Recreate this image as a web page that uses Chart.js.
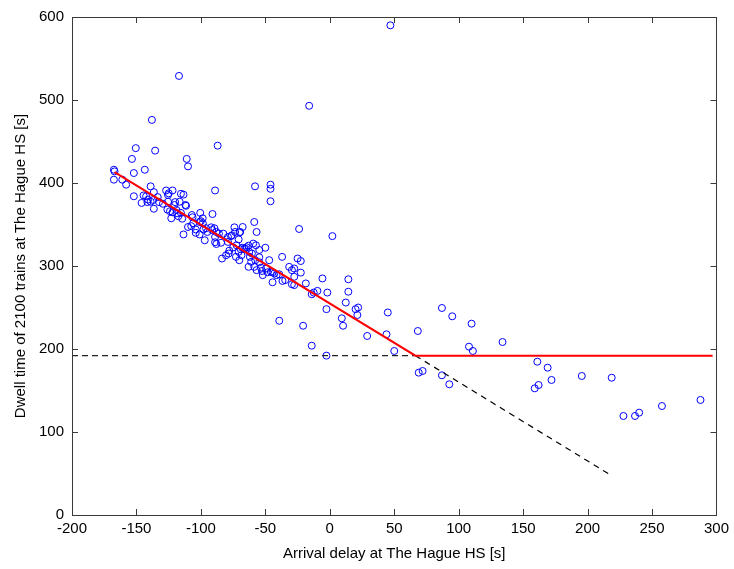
<!DOCTYPE html>
<html>
<head>
<meta charset="utf-8">
<script src="https://cdn.jsdelivr.net/npm/chart.js@4"></script>
<style>
  html, body { margin: 0; padding: 0; background: #fff; }
  #wrap { width: 734px; height: 569px; }
</style>
</head>
<body>
<div id="wrap"><canvas id="dwellChart"></canvas></div>
<script>
// arrival delay [s] vs dwell time [s]
const arrivalDelay = [
  47, -117, -16, -138, -135.5, -150.5, -87, -111, -110, -153.5, -167.5, -167, -167.5, -161, -158, -152, -143.5, -152, -89,
  -139, -136.5, -144.5, -142.5, -141, -137, -139, -146, -141.5, -136.5, -133.5, -132.5, -129.5, -127, -122, -125.5, -125.5,
  -120, -115.5, -113.5, -116.5, -120.5, -126, -124, -119, -122, -118.5, -115.5, -117.5, -123, -114.5, -112, -113.5, -110,
  -111.5, -107, -106.5, -100.5, -91, -106, -107.5, -104, -104, -101, -101, -100, -98.5, -98, -96, -95, -92, -91.3, -89.5,
  -88, -86, -89, -88, -89, -84.4, -83.6, -80.5, -78.5, -82.6, -79, -76, -74, -73.5, -70.7, -67.6, -69.5, -72.3, -75, -78,
  -70.7, -69, -66.3, -64.5, -58.6, -56.8, -59.4, -57.3, -62.5, -60.4, -62, -61, -63, -58.6, -56.8, -57.8,
  -70, -76.6, -97, -79, -54.7, -72.8, -70.2, -68, -68.5, -125, -98.6,
  -23.8, -65, -63, -54.7, -50, -54.7, -53.4, -52.6, -52, -49.5, -48.3, -47, -45.7, -44.4, -43, -41.3, -39.2, -37, -36.7,
  -44.4, -31.5, -29.4, -27.6, -25, -22.5, -22.5, -27.6, -29.4, -27.6, -18.6, -14, -12.5, -9.6, -34.6,
  -5.7, 14.4, -1.9, 14.4, 12.4, -2.6, 20, 22, 21.4, 9.3, 10.3, -20.7, 29, 45, 44, 50, -14, -2.6, 68.3, -39.2, 2,
  -58, -46, -46, -46,
  87, 95, 110, 134, 108, 111, 161, 169, 172, 195.5, 218.7, 159, 162, 69, 72, 87, 92.7, 227.8, 236.8, 240, 257.7, 287.6
];
const dwellTime = [
  590, 529, 493, 476, 439, 442, 445, 429, 420, 429, 416, 414, 404, 404, 398, 412, 416, 384, 391,
  396, 389, 385, 384, 380, 379.5, 377.5, 376, 377, 369, 383, 377, 375, 391, 391, 385.5, 377.5,
  377, 387, 386, 377.5, 373.5, 368, 366, 367.5, 364.7, 363.5, 364, 360, 357.5, 357, 373.5, 338, 347,
  372.5, 361.4, 358.7, 364, 362.6, 351.5, 348, 344, 340, 338, 353, 354, 351.5, 344, 345.5, 341, 346.6, 343.4, 345.5,
  341, 339, 335, 326.5, 328.6, 328, 309, 313, 315, 339, 335, 337, 346.6, 341, 332, 347, 341, 325, 322.5, 318.5,
  317, 320, 321, 322.5, 353, 341, 327, 325, 317, 315, 311, 305, 299, 299, 295, 307,
  340.6, 336, 331, 329, 310.5, 311, 307, 322, 313, 387.6, 357.5,
  344.6, 320.5, 324.5, 319.3, 322, 304.5, 298, 294, 289, 297, 292.4, 307, 293, 292.4, 291, 289, 290, 311, 282,
  280.4, 299, 295, 297, 309, 306, 292, 287, 278, 277, 279, 266, 268, 270, 283,
  285, 284, 268, 269, 256, 248, 248, 250, 241, 237, 228, 228, 215.7, 244, 217.7, 197.6, 204, 192, 221.7, 234, 336,
  396, 398, 393, 378,
  249.4, 239.4, 230.5, 208.4, 202.8, 197.6, 184.7, 177.5, 162.7, 167.5, 165.4, 152.6, 156.6, 171.5, 173.5, 168.3, 157.5, 119.3, 119.3, 123.3, 131.3, 138.6
];

// piecewise fit (red) and its continuations (dashed)
const fitX = [-167, 66.4, 297];
const fitY = [413, 192, 192];
const flatDashX = [-200, 66.4];
const flatDashY = [192, 192];
const slopeDashX = [66.4, 217];
const slopeDashY = [192, 49];

const xTicks = [-200, -150, -100, -50, 0, 50, 100, 150, 200, 250, 300];
const yTicks = [0, 100, 200, 300, 400, 500, 600];

const toPoints = (xs, ys) => xs.map((x, i) => ({ x: x, y: ys[i] }));

// MATLAB style box with inward ticks on all four sides
const boxPlugin = {
    id: 'box',
    afterDatasetsDraw(chart) {
        const ctx = chart.ctx;
        const a = chart.chartArea;
        const xs = chart.scales.x;
        const ys = chart.scales.y;
        const len = 6;
        ctx.save();
        ctx.strokeStyle = '#3a3a3a';
        ctx.lineWidth = 1;
        ctx.beginPath();
        xTicks.forEach(v => {
            const px = Math.round(xs.getPixelForValue(v)) + 0.5;
            ctx.moveTo(px, a.bottom); ctx.lineTo(px, a.bottom - len);
            ctx.moveTo(px, a.top); ctx.lineTo(px, a.top + len);
        });
        yTicks.forEach(v => {
            const py = Math.round(ys.getPixelForValue(v)) + 0.5;
            ctx.moveTo(a.left, py); ctx.lineTo(a.left + len, py);
            ctx.moveTo(a.right, py); ctx.lineTo(a.right - len, py);
        });
        ctx.stroke();
        ctx.strokeRect(Math.round(a.left) + 0.5, Math.round(a.top) + 0.5,
            Math.round(a.right - a.left), Math.round(a.bottom - a.top));
        ctx.restore();
    }
};

const font = { family: '"Liberation Sans", Arial, sans-serif', size: 15 };

new Chart(document.getElementById('dwellChart'), {
    type: 'scatter',
    data: {
        datasets: [{
            type: 'line',
            data: toPoints(fitX, fitY),
            borderColor: '#ff0000',
            borderWidth: 2,
            pointRadius: 0,
            fill: false,
            tension: 0
        }, {
            type: 'line',
            data: toPoints(flatDashX, flatDashY),
            borderColor: '#222',
            borderWidth: 1.2,
            borderDash: [6, 4],
            pointRadius: 0,
            fill: false
        }, {
            type: 'line',
            data: toPoints(slopeDashX, slopeDashY),
            borderColor: '#000',
            borderWidth: 1.2,
            borderDash: [6, 5],
            pointRadius: 0,
            fill: false
        }, {
            data: toPoints(arrivalDelay, dwellTime),
            pointStyle: 'circle',
            pointRadius: 3.5,
            pointBorderWidth: 1,
            pointBorderColor: '#0000ff',
            pointBackgroundColor: 'rgba(0,0,0,0)'
        }]
    },
    options: {
        responsive: true,
        maintainAspectRatio: false,
        animation: false,
        layout: { padding: { top: 17, right: 16, left: 0, bottom: 0 } },
        plugins: {
            legend: { display: false },
            tooltip: { enabled: false }
        },
        scales: {
            x: {
                type: 'linear',
                min: -200,
                max: 300,
                afterFit: s => { s.height = 54; },
                afterBuildTicks: s => { s.ticks = xTicks.map(v => ({ value: v })); },
                grid: { display: false, drawTicks: false },
                border: { display: false },
                ticks: { color: '#000', font: font, padding: 5, maxRotation: 0 },
                title: {
                    display: true,
                    text: 'Arrival delay at The Hague HS [s]',
                    color: '#000',
                    font: font,
                    padding: { top: 2, bottom: 6 }
                }
            },
            y: {
                type: 'linear',
                min: 0,
                max: 600,
                afterFit: s => { s.width = 72; },
                afterBuildTicks: s => { s.ticks = yTicks.map(v => ({ value: v })); },
                grid: { display: false, drawTicks: false },
                border: { display: false },
                ticks: { color: '#000', font: font, padding: 8 },
                title: {
                    display: true,
                    text: 'Dwell time of 2100 trains at The Hague HS [s]',
                    color: '#000',
                    font: font,
                    padding: { top: 12, bottom: 0 }
                }
            }
        }
    },
    plugins: [boxPlugin]
});
</script>
</body>
</html>
